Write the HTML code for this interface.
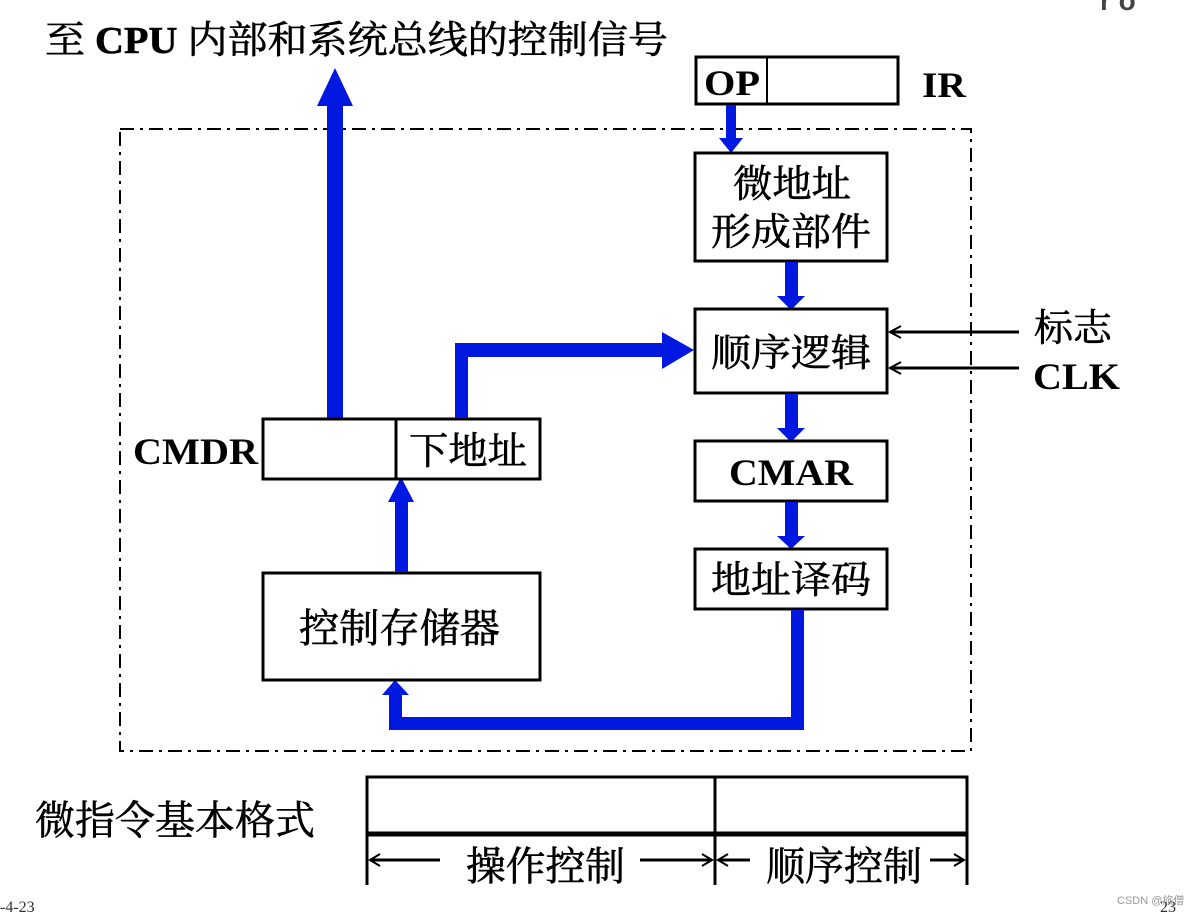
<!DOCTYPE html>
<html><head><meta charset="utf-8"><style>
html,body{margin:0;padding:0;background:#fff;width:1188px;height:915px;overflow:hidden}
svg{display:block}
.cn{font-family:"Liberation Serif","Noto Serif CJK SC",serif;stroke:#000;stroke-width:0.6}
.en{font-family:"Liberation Serif",serif;font-weight:bold}
</style></head><body>
<svg width="1188" height="915" viewBox="0 0 1188 915">
<text x="45" y="53" class="cn" font-size="38" textLength="623" lengthAdjust="spacingAndGlyphs">至 <tspan class="en">CPU</tspan> 内部和系统总线的控制信号</text>
<rect x="120" y="129" width="851" height="622" fill="none" stroke="#000" stroke-width="2" stroke-dasharray="14,6,3,6"/>
<rect x="327" y="104" width="16" height="316" fill="#0018e0"/>
<polygon points="317,106 335,68 353,106" fill="#0018e0"/>
<rect x="696" y="57" width="202" height="47" fill="#fff" stroke="#000" stroke-width="3"/>
<line x1="767" y1="57" x2="767" y2="104" stroke="#000" stroke-width="2"/>
<text x="704" y="95" class="en" font-size="36" textLength="56" lengthAdjust="spacingAndGlyphs">OP</text>
<text x="922" y="97" class="en" font-size="36" textLength="44" lengthAdjust="spacingAndGlyphs">IR</text>
<rect x="726" y="105" width="10" height="34" fill="#0018e0"/>
<polygon points="719,138 731,153 743,138" fill="#0018e0"/>
<rect x="695" y="153" width="192" height="108" fill="#fff" stroke="#000" stroke-width="3"/>
<text x="733" y="197" class="cn" font-size="38" textLength="118" lengthAdjust="spacingAndGlyphs">微地址</text>
<text x="711" y="245" class="cn" font-size="38" textLength="160" lengthAdjust="spacingAndGlyphs">形成部件</text>
<rect x="785" y="262" width="13" height="35" fill="#0018e0"/>
<polygon points="777,296 791,310 805,296" fill="#0018e0"/>
<rect x="695" y="309" width="192" height="84" fill="#fff" stroke="#000" stroke-width="3"/>
<text x="711" y="366" class="cn" font-size="38" textLength="160" lengthAdjust="spacingAndGlyphs">顺序逻辑</text>
<line x1="890" y1="332" x2="1019" y2="332" stroke="#000" stroke-width="3"/>
<polyline points="901,326 890,332 901,338" fill="none" stroke="#000" stroke-width="2"/>
<line x1="890" y1="368" x2="1019" y2="368" stroke="#000" stroke-width="3"/>
<polyline points="901,362 890,368 901,374" fill="none" stroke="#000" stroke-width="2"/>
<text x="1034" y="341" class="cn" font-size="38" textLength="78" lengthAdjust="spacingAndGlyphs">标志</text>
<text x="1033" y="389" class="en" font-size="37" textLength="87" lengthAdjust="spacingAndGlyphs">CLK</text>
<rect x="785" y="394" width="13" height="36" fill="#0018e0"/>
<polygon points="777,428 791,442 805,428" fill="#0018e0"/>
<rect x="695" y="441" width="192" height="60" fill="#fff" stroke="#000" stroke-width="3"/>
<text x="729" y="485" class="en" font-size="37" textLength="124" lengthAdjust="spacingAndGlyphs">CMAR</text>
<rect x="785" y="502" width="13" height="35" fill="#0018e0"/>
<polygon points="777,536 791,549 805,536" fill="#0018e0"/>
<rect x="695" y="549" width="192" height="60" fill="#fff" stroke="#000" stroke-width="3"/>
<text x="711" y="593" class="cn" font-size="38" textLength="160" lengthAdjust="spacingAndGlyphs">地址译码</text>
<rect x="791" y="610" width="13" height="120" fill="#0018e0"/>
<rect x="389" y="717" width="415" height="13" fill="#0018e0"/>
<rect x="389" y="693" width="13" height="37" fill="#0018e0"/>
<polygon points="382,695 395,680 409,695" fill="#0018e0"/>
<rect x="263" y="573" width="277" height="107" fill="#fff" stroke="#000" stroke-width="3"/>
<text x="299" y="642" class="cn" font-size="40" textLength="201" lengthAdjust="spacingAndGlyphs">控制存储器</text>
<rect x="395" y="500" width="13" height="72" fill="#0018e0"/>
<polygon points="388,502 401,477 414,502" fill="#0018e0"/>
<rect x="263" y="419" width="277" height="60" fill="#fff" stroke="#000" stroke-width="3"/>
<line x1="396" y1="419" x2="396" y2="479" stroke="#000" stroke-width="3"/>
<text x="133" y="464" class="en" font-size="37" textLength="125" lengthAdjust="spacingAndGlyphs">CMDR</text>
<text x="409" y="464" class="cn" font-size="38" textLength="118" lengthAdjust="spacingAndGlyphs">下地址</text>
<rect x="455" y="343" width="13" height="75" fill="#0018e0"/>
<rect x="455" y="343" width="210" height="14" fill="#0018e0"/>
<polygon points="662,332 694,350 662,369" fill="#0018e0"/>
<text x="35" y="834" class="cn" font-size="40" textLength="280" lengthAdjust="spacingAndGlyphs">微指令基本格式</text>
<rect x="367" y="777" width="600" height="57" fill="none" stroke="#000" stroke-width="3"/>
<line x1="367" y1="834" x2="967" y2="834" stroke="#000" stroke-width="5"/>
<line x1="367" y1="776" x2="367" y2="885" stroke="#000" stroke-width="3"/>
<line x1="715" y1="776" x2="715" y2="885" stroke="#000" stroke-width="3"/>
<line x1="967" y1="776" x2="967" y2="885" stroke="#000" stroke-width="3"/>
<line x1="370" y1="860" x2="440" y2="860" stroke="#000" stroke-width="3"/>
<polyline points="380,854 370,860 380,866" fill="none" stroke="#000" stroke-width="2"/>
<line x1="640" y1="860" x2="712" y2="860" stroke="#000" stroke-width="3"/>
<polyline points="702,854 712,860 702,866" fill="none" stroke="#000" stroke-width="2"/>
<line x1="718" y1="860" x2="750" y2="860" stroke="#000" stroke-width="3"/>
<polyline points="728,854 718,860 728,866" fill="none" stroke="#000" stroke-width="2"/>
<line x1="930" y1="860" x2="964" y2="860" stroke="#000" stroke-width="3"/>
<polyline points="954,854 964,860 954,866" fill="none" stroke="#000" stroke-width="2"/>
<text x="466" y="880" class="cn" font-size="40" textLength="159" lengthAdjust="spacingAndGlyphs">操作控制</text>
<text x="766" y="880" class="cn" font-size="40" textLength="156" lengthAdjust="spacingAndGlyphs">顺序控制</text>
<text x="0" y="912" font-family="Liberation Serif,serif" font-size="16" fill="#333">-4-23</text>
<text x="1117" y="904" font-family="Liberation Sans,Noto Sans CJK SC,sans-serif" font-size="11" fill="#999">CSDN @旅僧</text>
<text x="1160" y="912" font-family="Liberation Serif,serif" font-size="16" fill="#333">23</text>
<text x="1100" y="10" font-family="Liberation Sans,sans-serif" font-weight="bold" font-size="28" fill="#444">r o</text>
</svg>
</body></html>
